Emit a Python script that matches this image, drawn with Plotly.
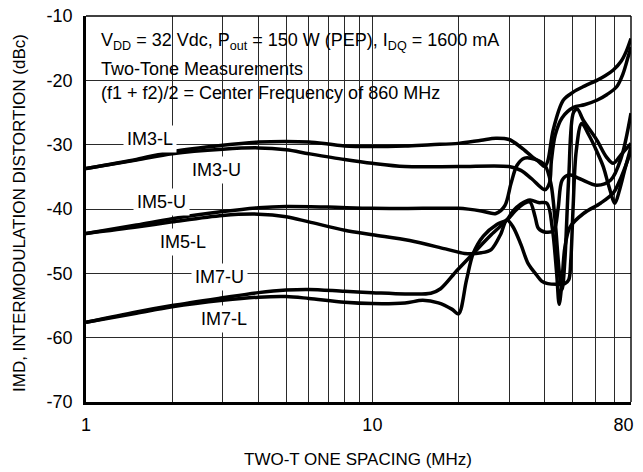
import plotly.graph_objects as go
import math

# ---------------- data ----------------
im3l_x = [1, 1.5, 2, 3, 4, 5, 6, 7, 8, 10, 13, 16, 20, 24, 27, 30, 33, 36, 38, 40, 41, 42.8, 46.4, 50.4, 55, 60.8, 65, 69.4, 74, 77, 80]
im3l_y = [-33.7, -32.3, -31.1, -30.1, -29.6, -29.5, -29.6, -29.9, -30.2, -30.3, -30.2, -30.0, -29.8, -29.3, -29.0, -29.2, -30.4, -31.8, -32.6, -33.4, -32.5, -27.7, -23.1, -21.8, -20.9, -20.0, -19.3, -18.4, -17.0, -15.5, -13.5]

im3u_x = [1, 1.5, 2, 3, 4, 5, 6, 8, 10, 13, 20, 30, 33, 36, 40, 41.5, 42.2, 43.5, 46, 50.4, 55, 60.8, 66, 71.3, 75, 78, 80]
im3u_y = [-33.7, -32.4, -31.4, -30.7, -30.5, -30.8, -31.4, -32.3, -32.9, -33.4, -33.4, -33.4, -34.0, -35.3, -37.0, -36.0, -32.4, -28.5, -25.8, -24.2, -23.8, -23.1, -22.2, -21.0, -19.0, -16.5, -14.8]

im5u_x = [1, 1.5, 2, 3, 4, 5, 7, 10, 15, 20, 24, 27, 29, 30.5, 32, 34, 37, 40, 42, 43.5, 45, 46, 47, 48.5, 50.4, 52, 54.5, 60.8, 65.6, 69.3, 74, 80]
im5u_y = [-43.8, -42.5, -41.5, -40.4, -39.8, -39.6, -39.7, -39.9, -39.9, -39.9, -40.3, -40.7, -39.5, -36.0, -33.2, -32.1, -32.3, -33.2, -36.0, -42.0, -50.0, -52.5, -48.0, -35.0, -25.0, -24.5, -26.2, -29.3, -31.9, -32.9, -31.5, -29.8]

im5l_x = [1, 1.5, 2, 3, 4, 5, 6, 8, 10, 13.5, 18, 21, 24, 26, 28, 29.5, 31, 33, 35, 37.5, 39, 41, 44, 47, 48.5, 49.3, 50.2, 51.5, 53.8, 57, 60, 64, 67, 70.3, 73, 76, 80]
im5l_y = [-43.8, -42.8, -42.0, -41.0, -40.8, -41.2, -42.0, -43.3, -44.0, -44.9, -46.2, -46.9, -46.8, -46.3, -44.0, -41.7, -42.8, -45.5, -48.5, -50.3, -51.2, -51.6, -51.7, -51.6, -51.0, -48.0, -40.0, -31.0, -26.7, -28.5, -30.5, -33.4, -36.5, -39.1, -37.0, -34.0, -30.3]

im7u_x = [1, 1.5, 2, 3, 4, 5, 6, 8, 10, 13, 16, 17.3, 19.7, 22.5, 26, 29.5, 31, 33, 35.5, 38, 40.7, 42.5, 44, 44.9, 45.8, 47, 49, 54.6, 62.6, 69.4, 74, 80]
im7u_y = [-57.6, -56.0, -55.0, -53.8, -53.0, -52.6, -52.5, -52.8, -53.0, -53.2, -53.1, -52.4, -49.6, -46.9, -44.0, -41.7, -40.3, -39.2, -38.6, -39.0, -39.1, -43.0, -50.0, -54.8, -52.0, -46.0, -42.8, -40.7, -39.1, -37.5, -35.0, -31.0]

im7l_x = [1, 1.5, 2, 3, 4, 5, 6, 8, 10, 13, 15, 17, 19, 20, 21.3, 22.5, 24.4, 27.2, 29.5, 31.5, 34, 35.5, 37, 38, 40.3, 43, 44.5, 46, 48.5, 53, 60.8, 68, 74, 80]
im7l_y = [-57.6, -56.2, -55.2, -54.2, -53.7, -53.6, -53.9, -54.5, -54.7, -54.6, -54.2, -54.6, -55.6, -56.3, -51.1, -46.9, -44.2, -42.4, -41.7, -40.3, -39.1, -38.9, -41.2, -43.0, -43.6, -43.3, -40.0, -35.5, -34.7, -35.3, -36.3, -35.5, -32.0, -25.1]

series = [
    ("IM3-L", im3l_x, im3l_y),
    ("IM3-U", im3u_x, im3u_y),
    ("IM5-U", im5u_x, im5u_y),
    ("IM5-L", im5l_x, im5l_y),
    ("IM7-U", im7u_x, im7u_y),
    ("IM7-L", im7l_x, im7l_y),
]

x_ticks = [1, 10, 80]
x_tick_text = ["1", "10", "80\u00a0\u00a0\u00a0"]
x_minor = [2, 3, 4, 5, 6, 7, 8, 9, 20, 30, 40, 50, 60, 70]
y_ticks = [-70, -60, -50, -40, -30, -20, -10]

# ---------------- figure ----------------
FONT = "Liberation Sans, Arial, sans-serif"
# page body has an 8px margin, so the figure is 8px smaller and shifted
OFF = 8
W, H = 643 - OFF, 472 - OFF
ML, MT = 86 - OFF, 16 - OFF
PW, PH = 545, 386
MR = W - ML - PW
MB = H - MT - PH

def px2paper(px, py):
    # px, py measured on the 643x472 reference picture
    return (px - 86) / PW, 1 - (py - 16) / PH

fig = go.Figure()
for name, xs, ys in series:
    fig.add_trace(go.Scatter(x=xs, y=ys, mode="lines", name=name,
                             line=dict(color="black", width=3.5, shape="spline", smoothing=0.9),
                             showlegend=False, hoverinfo="skip"))

grid_col = "#2a2a2a"
fig.update_xaxes(type="log", range=[0, math.log10(80)], automargin=False,
                 tickvals=x_ticks, ticktext=x_tick_text,
                 showgrid=True, gridcolor=grid_col, gridwidth=1.3,
                 minor=dict(tickvals=x_minor, showgrid=True, gridcolor=grid_col, gridwidth=1.3, ticks=""),
                 showline=True, linecolor="black", linewidth=2.6, ticks="",
                 ticklabelstandoff=5, zeroline=False, ticklabeloverflow="allow",
                 tickfont=dict(family=FONT, size=18, color="black"))
fig.update_yaxes(range=[-70, -10], automargin=False, tickvals=y_ticks, ticktext=[str(v) for v in y_ticks],
                 showgrid=True, gridcolor=grid_col, gridwidth=1.3,
                 showline=True, linecolor="black", linewidth=2.6, ticks="",
                 ticklabelstandoff=7, zeroline=False, ticklabeloverflow="allow",
                 tickfont=dict(family=FONT, size=18, color="black"))

shapes = []
# white box behind the conditions text (hides grid lines)
bx0, by1 = px2paper(95, 22)
bx1, by0 = px2paper(506, 111)
shapes.append(dict(type="rect", xref="paper", yref="paper", x0=bx0, x1=bx1, y0=by0, y1=by1,
                   fillcolor="white", line=dict(width=0), layer="between"))
# top and right frame
shapes.append(dict(type="line", xref="paper", yref="paper", x0=0, x1=1, y0=1, y1=1,
                   line=dict(color="black", width=1.4)))
shapes.append(dict(type="line", xref="paper", yref="paper", x0=1, x1=1, y0=0, y1=1,
                   line=dict(color="black", width=1.4)))

annotations = []
header = [
    ("V<sub>DD</sub> = 32 Vdc, P<sub>out</sub> = 150 W (PEP), I<sub>DQ</sub> = 1600 mA", 41),
    ("Two-Tone Measurements", 69),
    ("(f1 + f2)/2 = Center Frequency of 860 MHz", 93),
]
for txt, cy in header:
    ax_, ay_ = px2paper(99, cy)
    annotations.append(dict(text=txt, xref="paper", yref="paper", x=ax_, y=ay_,
                            xanchor="left", yanchor="middle", showarrow=False,
                            font=dict(family=FONT, size=18, color="black")))

labels = [
    ("IM3-L", 149.5, 139),
    ("IM3-U", 216.5, 170),
    ("IM5-U", 161.5, 202),
    ("IM5-L", 182.5, 242),
    ("IM7-U", 219, 277),
    ("IM7-L", 224, 319),
]
for txt, cx, cy in labels:
    ax_, ay_ = px2paper(cx, cy)
    annotations.append(dict(text=txt, xref="paper", yref="paper", x=ax_, y=ay_,
                            xanchor="center", yanchor="middle", showarrow=False,
                            bgcolor="white", borderpad=3,
                            font=dict(family=FONT, size=18, color="black")))

tx, ty = px2paper(358, 459)
annotations.append(dict(text="TWO-T ONE SPACING (MHz)", xref="paper", yref="paper", x=tx, y=ty,
                        xanchor="center", yanchor="middle", showarrow=False,
                        font=dict(family=FONT, size=17, color="black")))
tx, ty = px2paper(19, 213)
annotations.append(dict(text="IMD, INTERMODULATION DISTORTION (dBc)", xref="paper", yref="paper",
                        x=tx, y=ty, xanchor="center", yanchor="middle", textangle=-90,
                        showarrow=False, font=dict(family=FONT, size=17, color="black")))

fig.update_layout(width=W, height=H, margin=dict(l=ML, r=MR, t=MT, b=MB, autoexpand=False),
                  paper_bgcolor="white", plot_bgcolor="white",
                  shapes=shapes, annotations=annotations,
                  font=dict(family=FONT, color="black"))

fig.write_html("out.html")
